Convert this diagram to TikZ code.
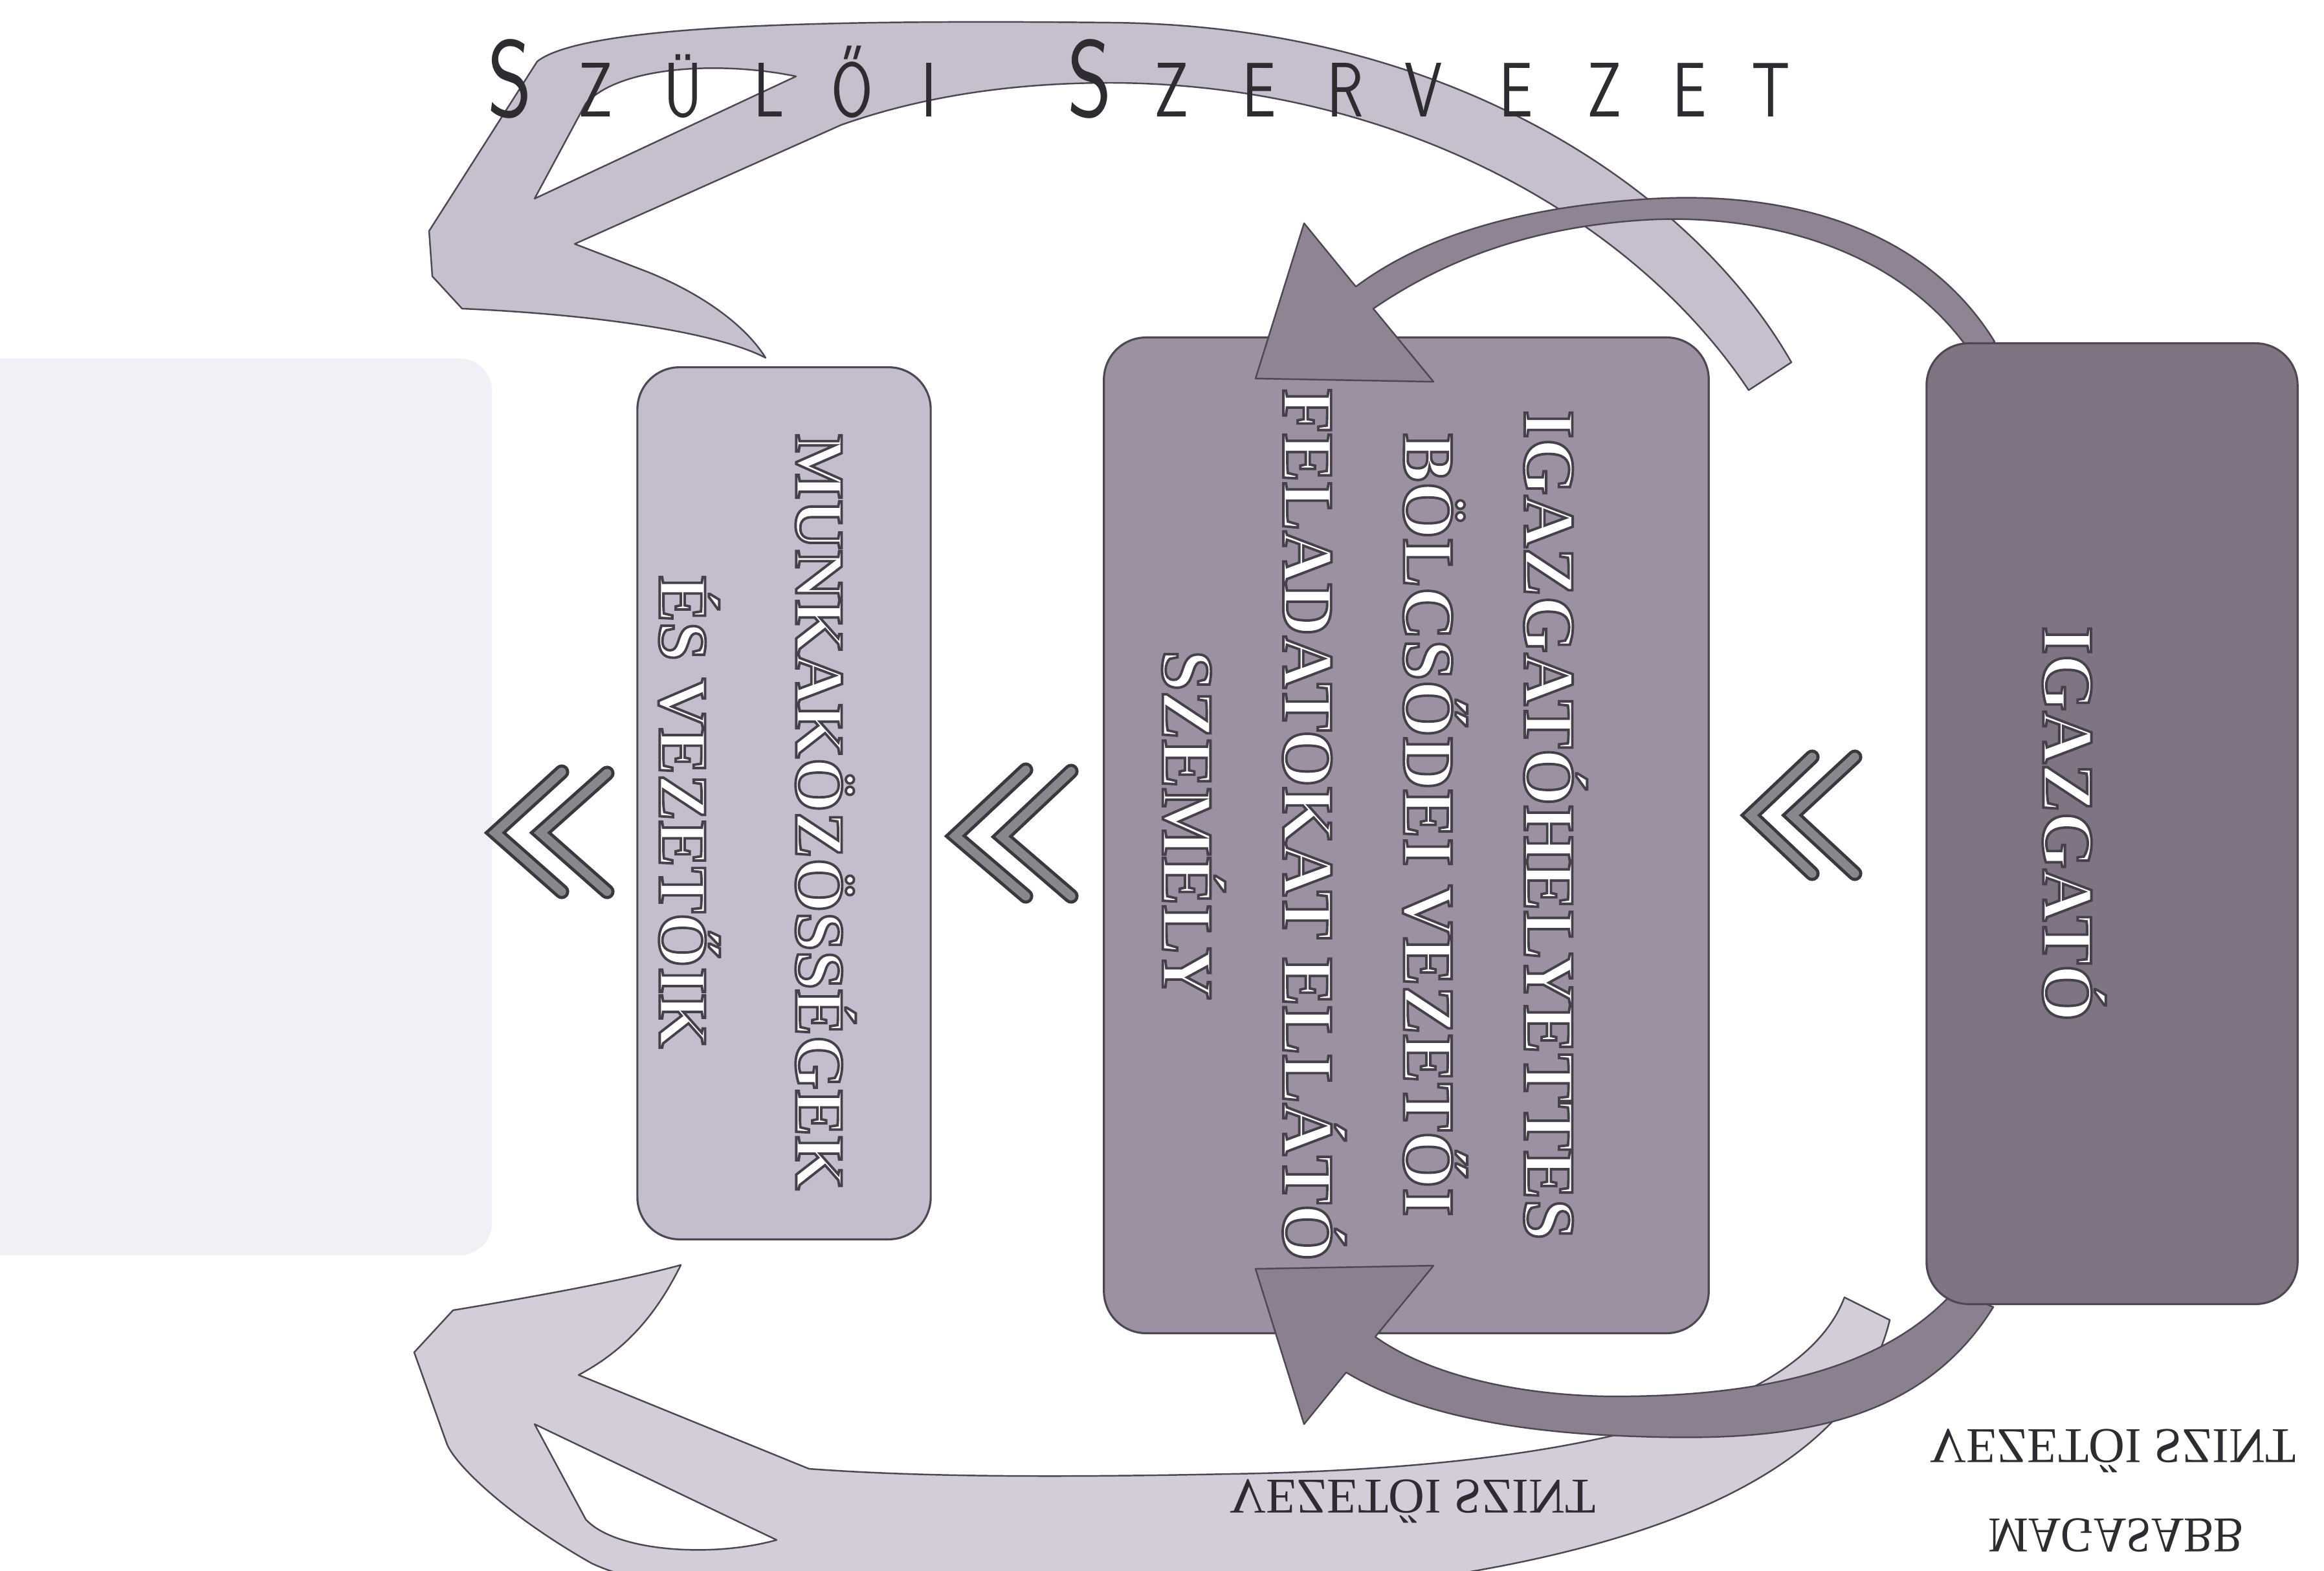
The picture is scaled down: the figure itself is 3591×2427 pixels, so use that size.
\documentclass[tikz,border=0pt]{standalone}
\usepackage{fontspec}
\setmainfont{Liberation Serif}
\definecolor{edgec}{HTML}{4E4853}
\definecolor{boxA}{HTML}{7F7484}
\definecolor{boxB}{HTML}{9B91A2}
\definecolor{boxC}{HTML}{C4BDCE}
\definecolor{ghostc}{HTML}{F2F0F6}
\definecolor{lightA}{HTML}{C6C0CE}
\definecolor{lightB}{HTML}{D2CDD9}
\definecolor{darkA}{HTML}{8E8494}
\definecolor{darkB}{HTML}{8A8090}
\definecolor{chevfill}{HTML}{8A868E}
\definecolor{chevedge}{HTML}{3A373D}
\definecolor{titlec}{HTML}{2E2C30}
\newcommand{\outlinetext}[1]{\special{pdf:literal direct 2 Tr 0.27 0.25 0.29 RG 1.1 w}#1\special{pdf:literal direct 0 Tr}}
\begin{document}
\begin{tikzpicture}[x=0.01cm,y=-0.01cm,
  boxstyle/.style={draw=edgec, line width=0.9pt, rounded corners=0.65cm, inner sep=0pt},
  boxtext/.style={text=white, font=\bfseries\fontsize{32}{53}\selectfont, align=center, rotate=-90, inner sep=0pt},
  shapeline/.style={draw=edgec, line width=0.7pt, line join=round},
  chevout/.style={draw=chevedge, line width=6.6pt, line cap=round, line join=miter},
  chevin/.style={draw=chevfill, line width=3.8pt, line cap=round, line join=miter},
  titlechar/.style={anchor=base, inner sep=0pt, text=titlec, xscale=0.78},
  mirrortext/.style={yscale=-1, inner sep=0pt, text=titlec, font=\fontsize{22}{26}\selectfont}]
\useasboundingbox (0,0) rectangle (3591,2427);
\begin{scope}
\clip (0,0) rectangle (3591,2427);
\fill[white] (0,0) rectangle (3591,2427);

% faint ghost box on the left
\node[fill=ghostc, rounded corners=0.5cm, inner sep=0pt, minimum width=8.6cm, minimum height=13.85cm] (ghost) at (330,1247) {};

% big light arrow (top)
\path[shapeline, fill=lightA, even odd rule]
  (2702,603) -- (2768,560)
  .. controls (2620,300) and (2250,40) .. (1718,35)
  .. controls (1250,30) and (900,40) .. (830,95)
  -- (663,357) -- (668,427) -- (714,477)
  .. controls (900,485) and (1100,510) .. (1183,553)
  .. controls (1150,500) and (1080,452) .. (1000,420)
  -- (888,377) -- (1300,193)
  .. controls (1450,140) and (1600,128) .. (1718,128)
  .. controls (2150,130) and (2520,330) .. (2702,603) -- cycle
  (826,307) -- (905,160) .. controls (960,100) and (1120,95) .. (1230,118) -- cycle;

% big light arrow (bottom)
\path[shapeline, fill=lightB, even odd rule]
  (2850,2005) -- (2920,2040)
  .. controls (2850,2330) and (2400,2440) .. (1900,2470)
  .. controls (1400,2490) and (1050,2480) .. (914,2416)
  .. controls (780,2340) and (700,2260) .. (690,2230)
  -- (640,2090) -- (700,2025)
  .. controls (850,2000) and (980,1975) .. (1052,1955)
  .. controls (1010,2040) and (960,2090) .. (894,2125)
  -- (1250,2270)
  .. controls (1450,2285) and (1700,2282) .. (1900,2278)
  .. controls (2400,2270) and (2780,2190) .. (2850,2005) -- cycle
  (826,2201) -- (905,2348) .. controls (950,2398) and (1100,2408) .. (1200,2380) -- cycle;

% boxes under the dark arrows
\node[boxstyle, fill=boxC, minimum width=4.53cm, minimum height=13.47cm] (left) at (1211.5,1241.5) {};
\node[boxstyle, fill=boxB, minimum width=9.34cm, minimum height=15.38cm] (mid) at (2173,1291) {};

% dark arrow (top)
\path[shapeline, fill=darkA]
  (3082,528) .. controls (2960,330) and (2720,295) .. (2540,308)
  .. controls (2330,322) and (2190,372) .. (2095,443)
  -- (2015,345) -- (1940,585) -- (2215,590) -- (2122,477)
  .. controls (2220,410) and (2350,352) .. (2540,340)
  .. controls (2700,330) and (2930,370) .. (3050,552) -- cycle;

% dark arrow (bottom)
\path[shapeline, fill=darkB]
  (3080,2020) .. controls (2950,2230) and (2700,2228) .. (2480,2218)
  .. controls (2300,2208) and (2170,2175) .. (2080,2121)
  -- (2015,2201) -- (1940,1961) -- (2215,1956) -- (2125,2066)
  .. controls (2200,2120) and (2330,2155) .. (2480,2158)
  .. controls (2680,2160) and (2900,2130) .. (3020,1995) -- cycle;

% top box
\node[boxstyle, fill=boxA, minimum width=5.73cm, minimum height=14.84cm] (igazgato) at (3263.5,1273) {};

% chevrons
\foreach \a/\b/\c/\d/\e/\f in {
  2800/1170/2705/1260/2800/1350,
  2866/1170/2769/1260/2866/1350,
  1585/1190/1476/1292/1585/1385,
  1655/1192/1548/1293/1655/1385,
  868/1193/765/1287/868/1378,
  938/1195/835/1287/938/1378}{
  \draw[chevout] (\a,\b) -- (\c,\d) -- (\e,\f);
  \draw[chevin] (\a,\b) -- (\c,\d) -- (\e,\f);
}

% texts in boxes
\node[boxtext] (igtext) at (3205,1273) {\outlinetext{IGAZGATÓ}};
\node[boxtext] (midtext) at (2124,1275) {\outlinetext{IGAZGATÓHELYETTES\\BÖLCSŐDEI VEZETŐI\\FELADATOKAT ELLÁTÓ\\SZEMÉLY}};
\node[boxtext, font=\bfseries\fontsize{30.5}{60}\selectfont] (lefttext) at (1170,1255) {\outlinetext{MUNKAKÖZÖSSÉGEK\\ÉS VEZETŐIK}};

% title
\foreach \i/\xx/\ch/\sz in {1/788/S/48, 2/920/Z/34, 3/1056/Ü/34, 4/1188/L/34, 5/1317/Ő/34, 6/1436/I/34, 7/1684/S/48, 8/1810/Z/34, 9/1946/E/34, 10/2079/R/34, 11/2200/V/34, 12/2343/E/34, 13/2479/Z/34, 14/2611/E/34, 15/2736/T/34}{
  \node[titlechar, font=\sffamily\fontsize{\sz}{\sz}\selectfont] (t\i) at (\xx,180) {\ch};
}

% mirrored labels
\node[mirrortext] (vsz1) at (2183,2320) {VEZETŐI SZINT};
\node[mirrortext] (vsz2) at (3265,2242) {VEZETŐI SZINT};
\node[mirrortext, xscale=0.9] (mag) at (3270,2373) {MAGASABB};
\end{scope}
\end{tikzpicture}
\end{document}
